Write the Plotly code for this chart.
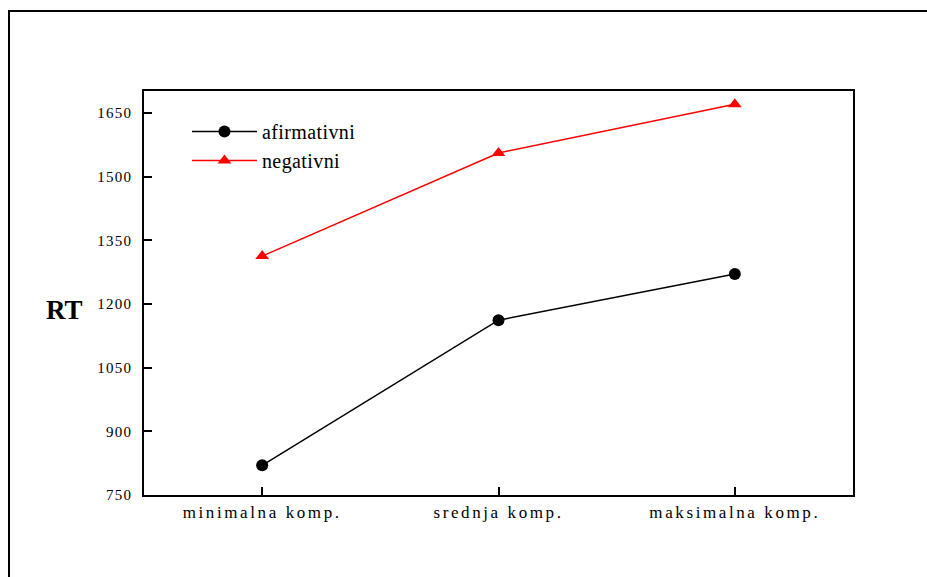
import plotly.graph_objects as go

categories = ["minimalna komp.", "srednja komp.", "maksimalna komp."]
afirmativni = [820, 1162, 1271]
negativni = [1313, 1556, 1671]
y_ticks = [750, 900, 1050, 1200, 1350, 1500, 1650]

FONT = "Liberation Serif, Times New Roman, serif"

fig = go.Figure()
fig.add_trace(go.Scatter(
    x=[0, 1, 2], y=afirmativni, name="afirmativni", mode="lines+markers",
    line=dict(color="black", width=1.5),
    marker=dict(symbol="circle", size=12, color="black"),
))
fig.add_trace(go.Scatter(
    x=[0, 1, 2], y=negativni, name="negativni", mode="lines+markers",
    line=dict(color="#ff0000", width=1.5),
    marker=dict(symbol="triangle-up", size=12, color="#ff0000"),
))

fig.update_layout(
    width=927, height=577,
    margin=dict(l=144, r=74, t=91, b=82),
    paper_bgcolor="white", plot_bgcolor="white",
    font=dict(family=FONT, color="black", size=15),
    showlegend=True,
    legend=dict(
        x=0.0606, y=0.948, xanchor="left", yanchor="top",
        bgcolor="rgba(0,0,0,0)", font=dict(size=20, family=FONT, color="black"),
        itemwidth=65, tracegroupgap=0,
    ),
    xaxis=dict(
        range=[-0.5, 2.5], tickmode="array", tickvals=[0, 1, 2], ticktext=categories,
        ticks="inside", ticklen=8, tickwidth=1.5, tickcolor="black",
        showline=True, linecolor="black", linewidth=1.8, mirror=True,
        showgrid=False, zeroline=False, tickfont=dict(size=17, family=FONT),
        ticklabelstandoff=1,
    ),
    yaxis=dict(
        range=[750, 1702], tickmode="array", tickvals=y_ticks,
        ticks="inside", ticklen=8, tickwidth=1.5, tickcolor="black",
        showline=True, linecolor="black", linewidth=1.8, mirror=True,
        showgrid=False, zeroline=False, tickfont=dict(size=15, family=FONT),
        ticklabelstandoff=7,
    ),
    annotations=[dict(
        text="<b>RT</b>", xref="paper", yref="paper", x=-0.1128, y=0.458,
        xanchor="center", yanchor="middle",
        showarrow=False, font=dict(size=27, family=FONT, color="black"),
    )],
    shapes=[dict(
        type="rect", xref="paper", yref="paper",
        x0=-0.1904, x1=1.3, y0=-0.3, y1=1.198,
        line=dict(color="black", width=2), fillcolor="rgba(0,0,0,0)", layer="below",
    )],
)

post = (
    "var s=document.createElement('style');"
    "s.innerHTML='body{margin:0;overflow:hidden} g.xtick text{letter-spacing:2.6px} "
    "g.ytick text{letter-spacing:1.2px} text.legendtext{letter-spacing:0.4px} "
    "g.scrollbox{clip-path:none !important}';"
    "document.head.appendChild(s);"
)

fig.write_html("out.html", post_script=post, config={"displayModeBar": False})
